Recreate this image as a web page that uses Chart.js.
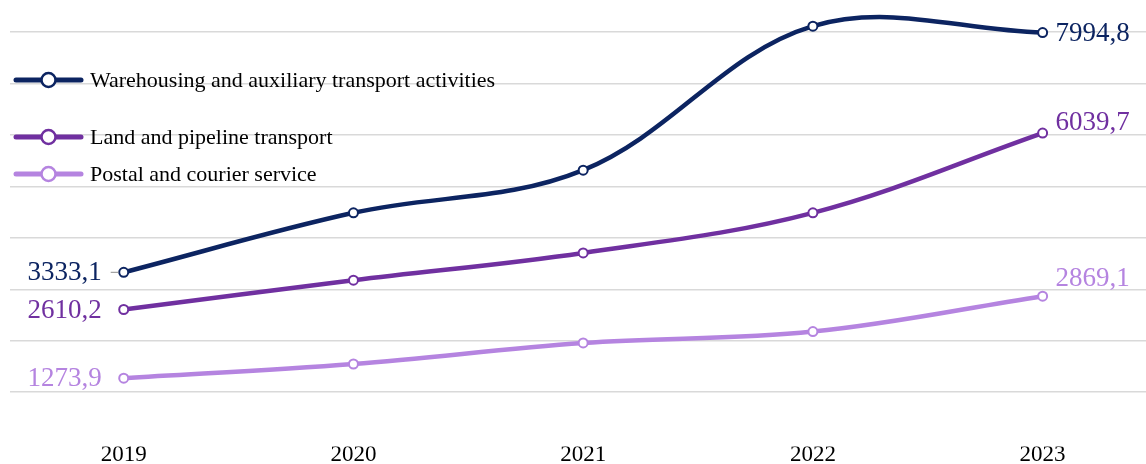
<!DOCTYPE html>
<html>
<head>
<meta charset="utf-8">
<script src="https://cdn.jsdelivr.net/npm/chart.js@4.4.1/dist/chart.umd.min.js"></script>
<style>
  html, body { margin: 0; padding: 0; background: #ffffff; }
  #wrap { width: 1146px; height: 464px; position: relative; }
</style>
</head>
<body>
<div id="wrap"><canvas id="grafico"></canvas></div>
<script>
// datos
const anios = [2019, 2020, 2021, 2022, 2023];
const nombres = [
    'Warehousing and auxiliary transport activities',
    'Land and pipeline transport',
    'Postal and courier service'
];
const almacenamiento = [3333.1, 4490, 5320, 8120, 7994.8];
const terrestre = [2610.2, 3180, 3710, 4490, 6039.7];
const postal = [1273.9, 1550, 1960, 2180, 2869.1];
const etiquetasInicio = ['3333,1', '2610,2', '1273,9'];
const etiquetasFin = ['7994,8', '6039,7', '2869,1'];
const lineasGuia = [1000, 2000, 3000, 4000, 5000, 6000, 7000, 8000];

const colores = ['#0c2461', '#7030a0', '#b584e0'];
const fuente = "'Liberation Serif', 'Times New Roman', serif";

function puntos(valores) {
    return anios.map((a, i) => ({ x: a, y: valores[i] }));
}

// etiquetas de valor al inicio y al final de cada serie
const etiquetasPlugin = {
    id: 'etiquetas',
    afterDatasetsDraw(chart) {
        const ctx = chart.ctx;
        const subir = [0, 11, 18]; // desplazamiento vertical de la etiqueta final
        ctx.save();
        ctx.font = '27px ' + fuente;
        ctx.textBaseline = 'middle';
        chart.data.datasets.forEach((ds, i) => {
            const meta = chart.getDatasetMeta(i);
            const p0 = meta.data[0];
            const pN = meta.data[meta.data.length - 1];
            ctx.fillStyle = colores[i];
            ctx.textAlign = 'right';
            ctx.fillText(etiquetasInicio[i], p0.x - 22, p0.y + 1);
            ctx.textAlign = 'left';
            ctx.fillText(etiquetasFin[i], pN.x + 13, pN.y - subir[i] + 1);
        });
        // pequena linea guia del primer valor
        const m = chart.getDatasetMeta(0).data[0];
        ctx.strokeStyle = '#8c8c8c';
        ctx.lineWidth = 1;
        ctx.beginPath();
        ctx.moveTo(m.x - 13, m.y);
        ctx.lineTo(m.x - 5, m.y);
        ctx.stroke();
        ctx.restore();
    }
};

// leyenda dibujada a mano (posiciones irregulares como en el original)
const leyendaPlugin = {
    id: 'leyendaManual',
    afterDraw(chart) {
        const ctx = chart.ctx;
        const filas = [80, 137, 174];
        ctx.save();
        ctx.font = '22px ' + fuente;
        ctx.textBaseline = 'middle';
        ctx.textAlign = 'left';
        nombres.forEach((n, i) => {
            const y = filas[i];
            ctx.strokeStyle = colores[i];
            ctx.lineWidth = 5;
            ctx.lineCap = 'round';
            ctx.beginPath();
            ctx.moveTo(16, y);
            ctx.lineTo(81, y);
            ctx.stroke();
            ctx.beginPath();
            ctx.arc(48.5, y, 7, 0, Math.PI * 2);
            ctx.fillStyle = '#ffffff';
            ctx.fill();
            ctx.lineWidth = 2.5;
            ctx.stroke();
            ctx.fillStyle = '#000000';
            ctx.fillText(n, 90, y + 1);
        });
        ctx.restore();
    }
};

const series = [almacenamiento, terrestre, postal];

new Chart(document.getElementById('grafico').getContext('2d'), {
    type: 'line',
    data: {
        datasets: series.map((valores, i) => ({
            label: nombres[i],
            data: puntos(valores),
            borderColor: colores[i],
            backgroundColor: '#ffffff',
            borderWidth: 4.5,
            tension: 0.36,
            pointRadius: 4.5,
            pointBorderWidth: 2,
            pointBackgroundColor: '#ffffff',
            pointBorderColor: colores[i],
            clip: false
        }))
    },
    options: {
        responsive: true,
        maintainAspectRatio: false,
        animation: false,
        layout: { autoPadding: false, padding: { left: 10, right: 0, top: 0, bottom: 0 } },
        plugins: {
            legend: { display: false },
            tooltip: { enabled: false }
        },
        scales: {
            x: {
                type: 'linear',
                min: 2018.505,
                max: 2023.45,
                afterBuildTicks: (scale) => { scale.ticks = anios.map(a => ({ value: a })); },
                grid: { display: false, drawTicks: false },
                border: { display: false },
                ticks: {
                    color: '#000000',
                    padding: -5,
                    maxRotation: 0,
                    font: { family: fuente, size: 23 },
                    callback: (v) => String(v)
                }
            },
            y: {
                min: -52,
                max: 8628,
                afterBuildTicks: (scale) => { scale.ticks = lineasGuia.map(v => ({ value: v })); },
                grid: {
                    drawTicks: false,
                    color: '#d9d9d9',
                    lineWidth: 1.6
                },
                border: { display: false },
                ticks: { display: false }
            }
        }
    },
    plugins: [etiquetasPlugin, leyendaPlugin]
});
</script>
</body>
</html>
